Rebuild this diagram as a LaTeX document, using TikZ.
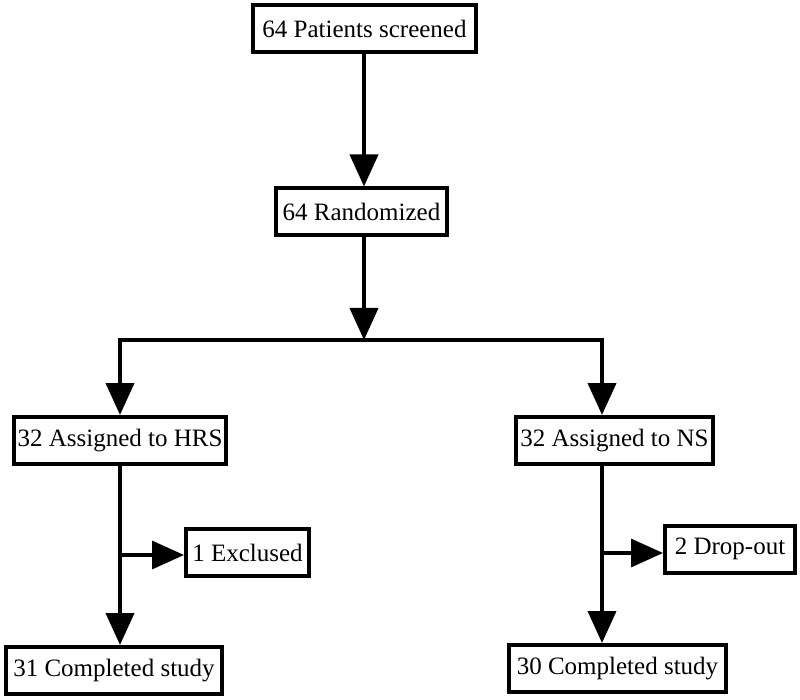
\documentclass[tikz,border=0pt]{standalone}
\usepackage{fontspec}
\setmainfont{Liberation Serif}
\usetikzlibrary{arrows.meta}
\begin{document}
\begin{tikzpicture}[x=1pt,y=-1pt,
  box/.style={draw, line width=4pt, inner sep=0pt, minimum height=47pt,
    font=\fontsize{25}{29}\selectfont, anchor=center},
  conn/.style={line width=4pt},
  arr/.style={conn, -{Triangle[length=32pt,width=28pt]}}]
\useasboundingbox (0,0) rectangle (800,700);
\node[box, minimum width=223pt] (scr) at (364.5,29) {64 Patients screened};
\node[box, minimum width=171pt] (rnd) at (361.5,212) {64 Randomized};
\node[box, minimum width=212pt] (hrs) at (120,440.5) {32 Assigned to HRS};
\node[box, minimum width=123pt] (exc) at (247.5,552.5) {1 Exclused};
\node[box, minimum width=216pt] (c31) at (114,670.5) {31 Completed study};
\node[box, minimum width=197pt] (ns) at (614.5,440.5) {32 Assigned to NS};
\node[box, minimum width=130pt] (drp) at (730,549) {2 Drop-out};
\node[box, minimum width=217pt] (c30) at (617.5,668.5) {30 Completed study};
\coordinate (mid) at (364,340);
\coordinate (lft) at (120,340);
\coordinate (rgt) at (602,340);
\coordinate (bl) at (120,555);
\coordinate (br) at (602,553);
\draw[arr] (scr.south -| mid) -- (rnd.north -| mid);
\draw[arr] (rnd.south -| mid) -- (mid);
\draw[conn] ([xshift=-2pt]lft) -- ([xshift=2pt]rgt);
\draw[arr] ([yshift=-2pt]lft) -- (hrs.north -| lft);
\draw[arr] ([yshift=-2pt]rgt) -- (ns.north -| rgt);
\draw[arr] (hrs.south -| bl) -- (c31.north -| bl);
\draw[arr] (ns.south -| br) -- (c30.north -| br);
\draw[arr, line width=3.4pt] (bl) -- (exc.west |- bl);
\draw[arr, line width=3.4pt] (br) -- (drp.west |- br);
\end{tikzpicture}
\end{document}
